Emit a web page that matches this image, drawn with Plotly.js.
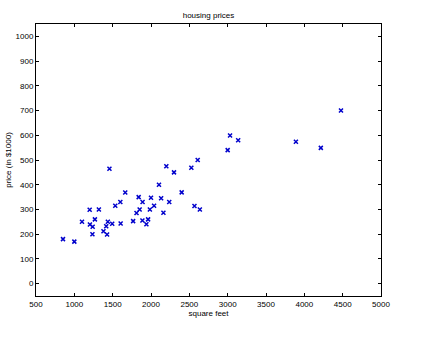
<!DOCTYPE html>
<html>
<head>
<meta charset="utf-8">
<script src="https://cdn.plot.ly/plotly-3.0.1.min.js"></script>
<style>html,body{margin:0;padding:0;background:#fff;}#chart{width:429px;height:337px;}</style>
</head>
<body>
<div id="chart"></div>
<script>
const squareFeet = [2104,1600,2400,1416,3000,1985,1534,1427,1380,1494,1940,2000,1890,4478,1268,2300,1320,1236,2609,3031,1767,1888,1604,1962,3890,1100,1458,2526,2200,2637,1839,1000,2040,3137,1811,1437,1239,2132,4215,2162,1664,2238,2567,1200,852,1852,1203];
const priceThousands = [399.9,329.9,369,232,539.9,299.9,314.9,199,212,242.5,240,347,330,699.9,259.9,449.9,299.9,199.9,500,599,252.9,255,242.9,259.9,573.9,249.9,464.5,469,475,299.9,349.9,169.9,314.9,579.9,285.9,249.9,229.9,345,549,287,368.5,329.9,314,299,179.9,299.9,239.5];
const xTicks = [500,1000,1500,2000,2500,3000,3500,4000,4500,5000];
const yTicks = [0,100,200,300,400,500,600,700,800,900,1000];

const axisCommon = {
  showgrid:false, zeroline:false, showline:true, linecolor:'#000', linewidth:1,
  mirror:'ticks', ticks:'inside', ticklen:3, tickcolor:'#000', tickwidth:1,
  tickfont:{family:'Liberation Sans, Arial, sans-serif', size:8, color:'#000'}
};

Plotly.newPlot('chart', [{
  x: squareFeet, y: priceThousands, type:'scatter', mode:'markers',
  marker:{symbol:'x-thin-open', size:4, color:'#0000cc', line:{width:1.5, color:'#0000cc'}},
  hoverinfo:'skip'
}], {
  width:429, height:337,
  margin:{l:36, r:48, t:24, b:41},
  paper_bgcolor:'#fff', plot_bgcolor:'#fff',
  showlegend:false,
  font:{family:'Liberation Sans, Arial, sans-serif', size:8, color:'#000'},
  title:{text:'housing prices', font:{size:8, color:'#000'}, x:0.486, xanchor:'center', y:0.955, yanchor:'middle'},
  xaxis:Object.assign({}, axisCommon, {range:[500,5000], tickvals:xTicks, ticktext:xTicks.map(String),
    title:{text:'square feet', font:{size:8}, standoff:2}}),
  yaxis:Object.assign({}, axisCommon, {range:[-50,1050], tickvals:yTicks, ticktext:yTicks.map(String),
    title:{text:'price (in $1000)', font:{size:8}, standoff:2}})
}, {staticPlot:true});
</script>
</body>
</html>
